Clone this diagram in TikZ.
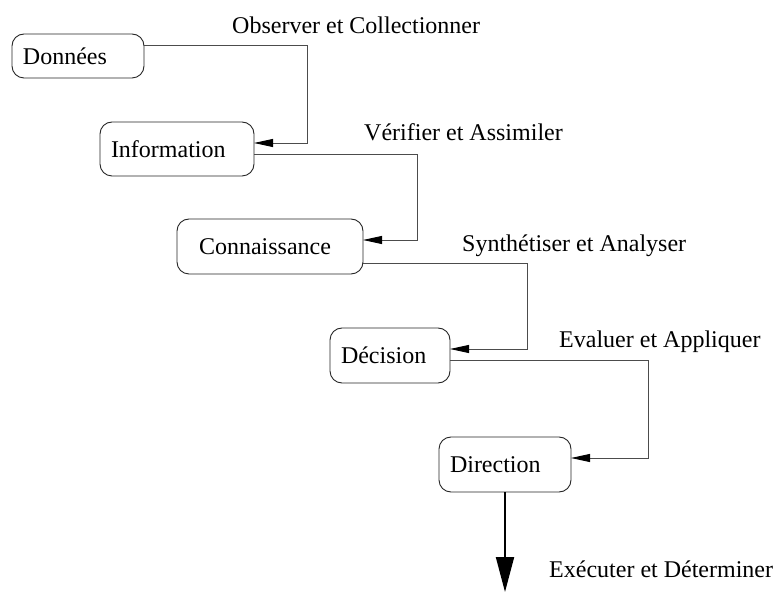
\documentclass[tikz,border=0pt]{standalone}
\usepackage{fontspec}
\setmainfont{Liberation Serif}
\usetikzlibrary{arrows.meta,calc}
\tikzset{
  box/.style={draw=black!85, line width=0.9pt, rounded corners=12pt, align=left,
    anchor=north west, inner ysep=0pt, outer sep=0pt, font=\fontsize{24}{28}\selectfont},
  lbl/.style={anchor=base west, inner sep=0pt, font=\fontsize{24}{28}\selectfont},
  conn/.style={draw=black!70, line width=0.9pt, -{Triangle[length=19pt,width=8pt,black]}},
  bigarrow/.style={draw=black, line width=2pt, -{Triangle[length=35pt,width=18pt]}}
}
\begin{document}
\begin{tikzpicture}[x=1pt,y=-1pt]
\useasboundingbox (0,0) rectangle (774,593);
\node[box, inner xsep=11pt, text width=110pt, minimum height=44pt] (don) at (12,34) {Données};
\node[box, inner xsep=11pt, text width=132pt, minimum height=54pt] (info) at (100,122) {Information};
\node[box, inner xsep=22pt, text width=142pt, minimum height=55pt] (conn) at (177,219) {Connaissance};
\node[box, inner xsep=11pt, text width=98pt, minimum height=55pt] (dec) at (330,328) {Décision};
\node[box, inner xsep=11pt, text width=110pt, minimum height=55pt] (dir) at (439,437) {Direction};

\node[lbl] (l1) at (232,34) {Observer et Collectionner};
\node[lbl] (l2) at (364,141) {Vérifier et Assimiler};
\node[lbl] (l3) at (462,252) {Synthétiser et Analyser};
\node[lbl] (l4) at (559,348) {Evaluer et Appliquer};
\node[lbl] (l5) at (549,577) {Exécuter et Déterminer};

\draw[conn] ([yshift=-11pt]don.north east) -- ++(163,0) |- ([yshift=-21pt]info.north east);
\draw[conn] ([yshift=-32pt]info.north east) -- ++(163,0) |- ([yshift=-21pt]conn.north east);
\draw[conn] ([yshift=-44pt]conn.north east) -- ++(164,0) |- ([yshift=-21pt]dec.north east);
\draw[conn] ([yshift=-32pt]dec.north east) -- ++(198,0) |- ([yshift=-21pt]dir.north east);
\coordinate (end) at (505,592);
\draw[bigarrow] (dir.south) -- (end);
\end{tikzpicture}
\end{document}
